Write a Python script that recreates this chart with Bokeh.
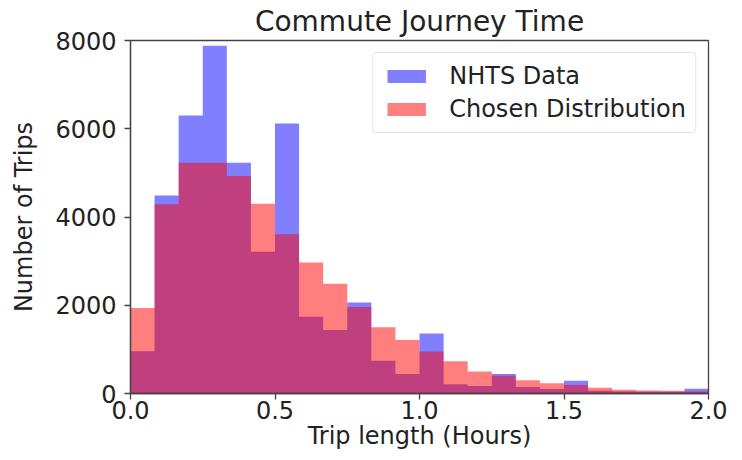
import numpy as np
from bokeh.plotting import figure
from bokeh.models import ColumnDataSource, FixedTicker, Range1d, Legend, LegendItem
from bokeh.embed import file_html
from bokeh.resources import INLINE

# ---- data ----
n_bins = 24
x_min_hours = 0.0
x_max_hours = 2.0
nhts_counts = [960, 4490, 6300, 7880, 5230, 3210, 6120, 1740, 1440, 2060, 740, 440,
               1360, 210, 170, 440, 150, 100, 290, 60, 45, 40, 40, 110]
chosen_counts = [1940, 4290, 5230, 5230, 4930, 4300, 3610, 2970, 2490, 1960, 1500, 1210,
                 950, 730, 500, 400, 300, 230, 190, 130, 85, 70, 60, 45]
x_ticks = [0.0, 0.5, 1.0, 1.5, 2.0]
x_tick_labels = ["0.0", "0.5", "1.0", "1.5", "2.0"]
y_ticks = [0, 2000, 4000, 6000, 8000]
y_tick_labels = ["0", "2000", "4000", "6000", "8000"]
series_names = ["NHTS Data", "Chosen Distribution"]
title_text = "Commute Journey Time"
x_label = "Trip length (Hours)"
y_label = "Number of Trips"

# histogram outline as one stepped area per series (no seams between bins)
edges = np.linspace(x_min_hours, x_max_hours, n_bins + 1)
src_nhts = ColumnDataSource(dict(x=edges, y=list(nhts_counts) + [nhts_counts[-1]]))
src_chosen = ColumnDataSource(dict(x=edges, y=list(chosen_counts) + [chosen_counts[-1]]))

FONT = "DejaVu Sans"
TXT = "#222222"
AX = "#444444"
FS = "24px"

p = figure(width=734, height=453, output_backend="svg", toolbar_location=None,
           x_range=Range1d(0, 2.0), y_range=Range1d(0, 8000),
           min_border_left=130, min_border_right=26, min_border_top=40, min_border_bottom=60)

r1 = p.varea_step(x="x", y1=0, y2="y", step_mode="after", source=src_nhts,
                  fill_color="blue", fill_alpha=0.5)
r2 = p.varea_step(x="x", y1=0, y2="y", step_mode="after", source=src_chosen,
                  fill_color="red", fill_alpha=0.5)

p.title.text = title_text
p.title.align = "center"
p.title.text_font = FONT
p.title.text_font_size = "28px"
p.title.text_font_style = "normal"
p.title.text_color = TXT
p.title.standoff = 5

p.xgrid.visible = False
p.ygrid.visible = False
p.outline_line_color = AX
p.outline_line_width = 1.3
p.outline_line_alpha = 1.0

p.xaxis.ticker = FixedTicker(ticks=x_ticks)
p.xaxis.major_label_overrides = dict(zip(x_ticks, x_tick_labels))
p.yaxis.ticker = FixedTicker(ticks=y_ticks)
p.yaxis.major_label_overrides = dict(zip(y_ticks, y_tick_labels))

for ax in (p.xaxis, p.yaxis):
    ax.axis_line_color = AX
    ax.axis_line_width = 1.3
    ax.major_tick_line_color = AX
    ax.major_tick_line_width = 1.3
    ax.major_tick_out = 6
    ax.major_tick_in = 0
    ax.minor_tick_out = 0
    ax.minor_tick_in = 0
    ax.major_label_text_font = FONT
    ax.major_label_text_font_size = FS
    ax.major_label_text_color = TXT
    ax.axis_label_text_font = FONT
    ax.axis_label_text_font_size = FS
    ax.axis_label_text_font_style = "normal"
    ax.axis_label_text_color = TXT

p.xaxis.axis_label = x_label
p.yaxis.axis_label = y_label
p.xaxis.major_label_standoff = 1
p.xaxis.axis_label_standoff = 0
p.yaxis.major_label_standoff = 8
p.yaxis.axis_label_standoff = 14

legend = Legend(items=[LegendItem(label=series_names[0], renderers=[r1]),
                       LegendItem(label=series_names[1], renderers=[r2])],
                location="top_right")
legend.margin = 12
legend.padding = 9
legend.spacing = 5
legend.glyph_width = 48
legend.glyph_height = 16
legend.label_standoff = 19
legend.label_text_font = FONT
legend.label_text_font_size = FS
legend.label_text_color = TXT
legend.border_line_color = "#cccccc"
legend.border_line_width = 1.3
legend.border_radius = 4
legend.background_fill_alpha = 0.8
p.add_layout(legend)

open("out.html", "w").write(file_html(p, INLINE))
